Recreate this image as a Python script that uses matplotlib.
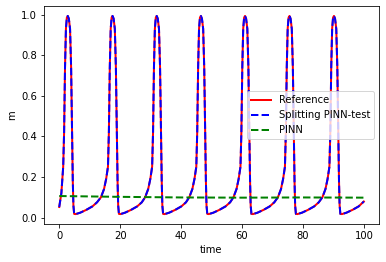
import matplotlib
matplotlib.use("Agg")
import matplotlib.pyplot as plt

# reference solution m(t)
t_ref = [
    0.0, 0.7, 1.3, 1.6, 1.9, 2.2, 2.5, 2.8, 3.15, 3.55, 3.9, 4.2, 4.45, 4.65, 4.9,
    5.4, 6.9, 8.9, 10.9, 12.4,
    13.7, 14.7, 15.4, 16.0, 16.3, 16.6, 16.9, 17.2, 17.5, 17.85, 18.25, 18.6, 18.9, 19.15, 19.35, 19.6,
    20.1, 21.6, 23.6, 25.6, 27.1,
    28.2, 29.2, 29.9, 30.5, 30.8, 31.1, 31.4, 31.7, 32.0, 32.35, 32.75, 33.1, 33.4, 33.65, 33.85, 34.1,
    34.6, 36.1, 38.1, 40.1, 41.6,
    42.7, 43.7, 44.4, 45.0, 45.3, 45.6, 45.9, 46.2, 46.5, 46.85, 47.25, 47.6, 47.9, 48.15, 48.35, 48.6,
    49.1, 50.6, 52.6, 54.6, 56.1,
    57.2, 58.2, 58.9, 59.5, 59.8, 60.1, 60.4, 60.7, 61.0, 61.35, 61.75, 62.1, 62.4, 62.65, 62.85, 63.1,
    63.6, 65.1, 67.1, 69.1, 70.6,
    71.8, 72.8, 73.5, 74.1, 74.4, 74.7, 75.0, 75.3, 75.6, 75.95, 76.35, 76.7, 77.0, 77.25, 77.45, 77.7,
    78.2, 79.7, 81.7, 83.7, 85.2,
    86.4, 87.4, 88.1, 88.7, 89.0, 89.3, 89.6, 89.9, 90.2, 90.55, 90.95, 91.3, 91.6, 91.85, 92.05, 92.3,
    92.8, 94.3, 96.3, 98.3, 100.0,
]
m_ref = [
    0.052, 0.12, 0.25, 0.42, 0.74, 0.93, 0.985, 0.993, 0.98, 0.93, 0.74, 0.42, 0.18, 0.06, 0.018,
    0.017, 0.024, 0.038, 0.055, 0.075,
    0.10, 0.14, 0.19, 0.25, 0.42, 0.74, 0.93, 0.985, 0.993, 0.98, 0.93, 0.74, 0.42, 0.18, 0.06, 0.018,
    0.017, 0.024, 0.038, 0.055, 0.075,
    0.10, 0.14, 0.19, 0.25, 0.42, 0.74, 0.93, 0.985, 0.993, 0.98, 0.93, 0.74, 0.42, 0.18, 0.06, 0.018,
    0.017, 0.024, 0.038, 0.055, 0.075,
    0.10, 0.14, 0.19, 0.25, 0.42, 0.74, 0.93, 0.985, 0.993, 0.98, 0.93, 0.74, 0.42, 0.18, 0.06, 0.018,
    0.017, 0.024, 0.038, 0.055, 0.075,
    0.10, 0.14, 0.19, 0.25, 0.42, 0.74, 0.93, 0.985, 0.993, 0.98, 0.93, 0.74, 0.42, 0.18, 0.06, 0.018,
    0.017, 0.024, 0.038, 0.055, 0.075,
    0.10, 0.14, 0.19, 0.25, 0.42, 0.74, 0.93, 0.985, 0.993, 0.98, 0.93, 0.74, 0.42, 0.18, 0.06, 0.018,
    0.017, 0.024, 0.038, 0.055, 0.075,
    0.10, 0.14, 0.19, 0.25, 0.42, 0.74, 0.93, 0.985, 0.993, 0.98, 0.93, 0.74, 0.42, 0.18, 0.06, 0.018,
    0.017, 0.024, 0.038, 0.055, 0.079,
]
# splitting PINN prediction sits on top of the reference
m_split = list(m_ref)

# plain PINN collapses to a near-constant value
t_pinn = [0, 20, 40, 60, 80, 100]
m_pinn = [0.106, 0.102, 0.099, 0.098, 0.099, 0.098]

fig, ax = plt.subplots(figsize=(386 / 72, 262 / 72), dpi=72)
fig.subplots_adjust(left=0.114, right=0.982, bottom=0.145, top=0.977)

ax.plot(t_ref, m_ref, color="r", lw=2, label="Reference")
ax.plot(t_ref, m_split, color="b", lw=2, ls="--", label="Splitting PINN-test")
ax.plot(t_pinn, m_pinn, color="g", lw=2, ls="--", label="PINN")

ax.set_xlabel("time")
ax.set_ylabel("m")
ax.legend(loc="center right")

fig.savefig("out.png", dpi=72)
